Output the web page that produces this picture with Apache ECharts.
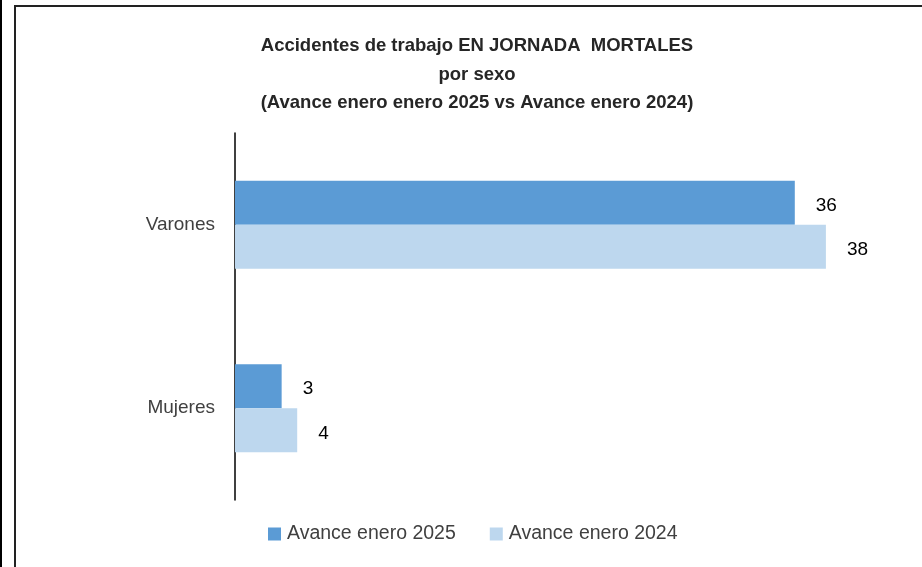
<!DOCTYPE html>
<html>
<head>
<meta charset="utf-8">
<script src="https://cdn.jsdelivr.net/npm/echarts@6/dist/echarts.min.js"></script>
<style>
  html, body { margin: 0; padding: 0; background: #fff; }
  #chart { width: 922px; height: 567px; }
</style>
</head>
<body>
<div id="chart"></div>
<script>
// datos
var categorias = ['Varones', 'Mujeres'];
var nombres = ['Avance enero 2025', 'Avance enero 2024'];
var valores2025 = [36, 3];
var valores2024 = [38, 4];

var chart = echarts.init(document.getElementById('chart'));
var fuente = 'Liberation Sans';

chart.setOption({
    backgroundColor: '#fff',
    animation: false,
    title: {
        text: 'Accidentes de trabajo EN JORNADA  MORTALES\npor sexo\n(Avance enero enero 2025 vs Avance enero 2024)',
        left: 472,
        top: 27,
        textAlign: 'center',
        textStyle: {
            fontFamily: fuente,
            fontSize: 18.5,
            fontWeight: 'bold',
            color: '#262626',
            lineHeight: 28.5
        }
    },
    legend: {
        left: 263,
        top: 519,
        itemWidth: 13,
        itemHeight: 13,
        itemGap: 34,
        icon: 'rect',
        textStyle: {
            fontFamily: fuente,
            fontSize: 19.5,
            color: '#404040',
            padding: [0, 0, 0, 1]
        },
        data: nombres
    },
    grid: {
        left: 235,
        right: 65,
        top: 133,
        bottom: 67
    },
    xAxis: {
        type: 'value',
        min: 0,
        max: 40,
        show: false
    },
    yAxis: {
        type: 'category',
        inverse: true,
        data: categorias,
        axisLine: { lineStyle: { color: '#000', width: 1.5 } },
        axisTick: { show: false },
        axisLabel: {
            margin: 20,
            fontFamily: fuente,
            fontSize: 19,
            color: '#404040'
        }
    },
    series: [
        {
            name: nombres[0],
            type: 'bar',
            data: valores2025,
            barGap: '0%',
            barCategoryGap: '52%',
            itemStyle: { color: '#5B9BD5' },
            label: {
                show: true,
                position: 'right',
                distance: 21,
                offset: [0, 3],
                fontFamily: fuente,
                fontSize: 19,
                color: '#000'
            }
        },
        {
            name: nombres[1],
            type: 'bar',
            data: valores2024,
            barGap: '0%',
            barCategoryGap: '52%',
            itemStyle: { color: '#BDD7EE' },
            label: {
                show: true,
                position: 'right',
                distance: 21,
                offset: [0, 3],
                fontFamily: fuente,
                fontSize: 19,
                color: '#000'
            }
        }
    ],
    graphic: [
        { type: 'line', shape: { x1: 1, y1: 0, x2: 1, y2: 567 }, style: { stroke: '#000', lineWidth: 2 } },
        { type: 'line', shape: { x1: 15, y1: 6, x2: 15, y2: 567 }, style: { stroke: '#222', lineWidth: 2 } },
        { type: 'line', shape: { x1: 14, y1: 6, x2: 922, y2: 6 }, style: { stroke: '#222', lineWidth: 2 } }
    ]
});
</script>
</body>
</html>
